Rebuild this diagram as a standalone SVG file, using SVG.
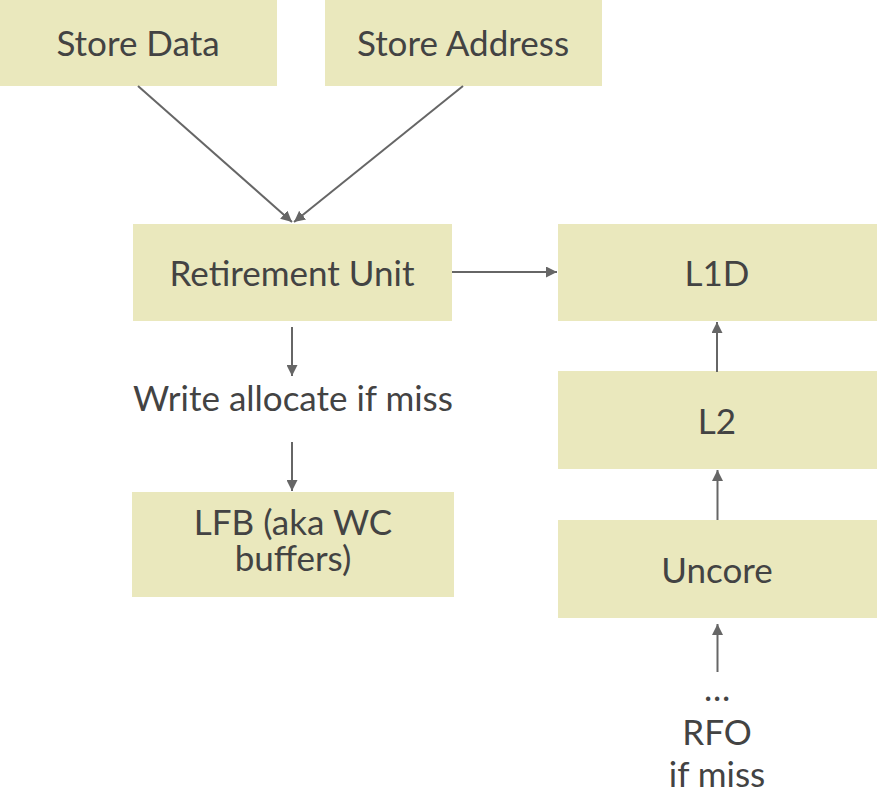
<svg xmlns="http://www.w3.org/2000/svg" width="879" height="794" viewBox="0 0 879 794">
<style>
.box{fill:#eae8bd}
.t{font-family:Lato,"Open Sans","Liberation Sans",sans-serif;font-size:35px;fill:#434343;text-anchor:middle}
.c{stroke:#666;stroke-width:2;fill:none;marker-end:url(#ah)}
</style>
<defs>
<marker id="ah" viewBox="0 0 10 10" refX="10" refY="5" markerWidth="5.5" markerHeight="5.5" markerUnits="strokeWidth" orient="auto">
<path d="M0,0 L10,5 L0,10 Z" fill="#666"/>
</marker>
</defs>
<rect width="879" height="794" fill="#fff"/>
<g id="store-data"><rect class="box" x="0" y="0" width="277" height="86"/><text class="t" x="138" y="56">Store Data</text></g>
<g id="store-address"><rect class="box" x="325" y="0" width="277" height="86"/><text class="t" x="463" y="56">Store Address</text></g>
<g id="retirement-unit"><rect class="box" x="133" y="224" width="319" height="97"/><text class="t" x="292" y="286">Retirement Unit</text></g>
<g id="l1d"><rect class="box" x="558" y="224" width="319" height="97"/><text class="t" x="717" y="286">L1D</text></g>
<g id="l2"><rect class="box" x="558" y="371" width="319" height="98"/><text class="t" x="717" y="434">L2</text></g>
<g id="uncore"><rect class="box" x="558" y="520" width="319" height="98"/><text class="t" x="717" y="583">Uncore</text></g>
<g id="write-allocate"><text class="t" x="293" y="411">Write allocate if miss</text></g>
<g id="lfb"><rect class="box" x="132" y="492" width="322" height="105"/><text class="t" x="293" y="535">LFB (aka WC</text><text class="t" x="293" y="571">buffers)</text></g>
<g id="rfo"><text class="t" x="717" y="701">…</text><text class="t" x="717" y="745">RFO</text><text class="t" x="717" y="787">if miss</text></g>
<g id="connectors">
<line class="c" x1="138" y1="86" x2="292" y2="222"/>
<line class="c" x1="463" y1="86" x2="294" y2="222"/>
<line class="c" x1="452" y1="272" x2="557" y2="272"/>
<line class="c" x1="292" y1="327" x2="292" y2="376"/>
<line class="c" x1="292" y1="442" x2="292" y2="491"/>
<line class="c" x1="717" y1="372" x2="717" y2="322"/>
<line class="c" x1="717.5" y1="520" x2="717.5" y2="470"/>
<line class="c" x1="717.5" y1="672" x2="717.5" y2="624"/>
</g>
</svg>
